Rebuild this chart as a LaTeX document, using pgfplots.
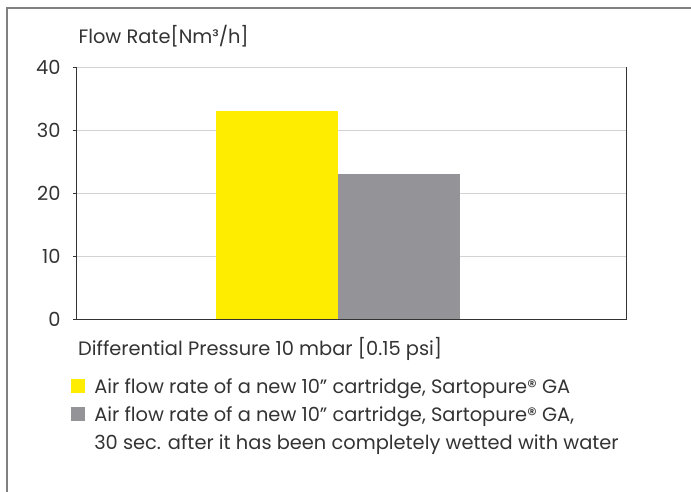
\documentclass[border=0pt]{standalone}
\usepackage{fontspec}
\setmainfont{Poppins}
\usepackage{pgfplots}
\pgfplotsset{compat=1.18}
\definecolor{ybarc}{HTML}{FFED00}
\definecolor{gbarc}{HTML}{939398}
\definecolor{txt}{HTML}{333333}
\definecolor{framec}{HTML}{808080}
\definecolor{gridc}{HTML}{D3D3D3}
\begin{document}
\begin{tikzpicture}[font=\fontsize{19.4bp}{23bp}\selectfont]
\path[use as bounding box] (0,0) rectangle (691bp,492bp);
\draw[framec, line width=1.3bp] (7bp,0) -- (7bp,484bp) -- (691bp,484bp);
\begin{axis}[
  at={(76.7bp,173bp)}, anchor=south west,
  scale only axis, width=550bp, height=251.6bp,
  xmin=0, xmax=550, ymin=0, ymax=40,
  axis x line*=bottom,
  xtick=\empty,
  ytick={0,10,20,30,40},
  ytick pos=left,
  ymajorgrids, grid style={gridc, line width=0.9bp},
  axis line style={txt, line width=0.9bp},
  tick style={txt, line width=0.9bp},
  tick align=outside, major tick length=3.5bp,
  /pgf/number format/assume math mode=true,
  yticklabel style={anchor=east, inner sep=0pt, xshift=-12.5bp, text=txt, font=\fontsize{19.4bp}{23bp}\selectfont},
  legend style={at={(-0.0104,-0.2385)}, anchor=north west, draw=none, fill=none,
    inner sep=0pt, outer sep=0pt, row sep=10bp,
    font=\fontsize{19.4bp}{23bp}\selectfont, text=txt,
    cells={anchor=base west},
    nodes={inner sep=0pt, text height=14bp, text depth=4bp},
    /tikz/every odd column/.append style={column sep=9.3bp}},
]
\addplot[ybar, bar width=122, bar shift=0pt, fill=ybarc, draw=none,
  legend image code/.code={\fill[ybarc] (0bp,0bp) rectangle (14bp,14bp);}]
  coordinates {(200.3,33)};
\addlegendentry{Air flow rate of a new 10” cartridge, Sartopure® GA}
\addplot[ybar, bar width=122, bar shift=0pt, fill=gbarc, draw=none,
  legend image code/.code={\fill[gbarc] (0bp,0bp) rectangle (14bp,14bp);}]
  coordinates {(322.3,23)};
\addlegendentry{Air flow rate of a new 10” cartridge, Sartopure® GA,}
\addlegendimage{empty legend}
\addlegendentry{30 sec. after it has been completely wetted with water}
\end{axis}
\node[anchor=base west, text=txt, inner sep=0pt] at (78.3bp,448bp) {Flow Rate[Nm³/h]};
\node[anchor=base west, text=txt, inner sep=0pt] at (78bp,136bp) {Differential Pressure 10 mbar [0.15 psi]};
\end{tikzpicture}
\end{document}
